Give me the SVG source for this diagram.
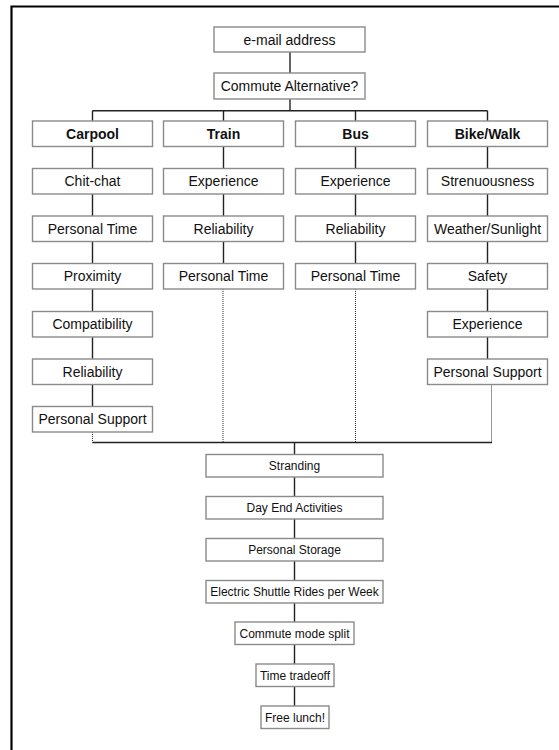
<svg xmlns="http://www.w3.org/2000/svg" width="559" height="750" viewBox="0 0 559 750">
<style>
.box{fill:#fff;stroke:#8a8a8a;stroke-width:1.4}
.t{font-family:"Liberation Sans",Arial,sans-serif;font-size:14px;fill:#111;text-anchor:middle}
.b{font-weight:bold}
.s{font-size:12px}
.ln{stroke:#222;stroke-width:1.4;fill:none}
.dt{stroke:#333;stroke-width:1;stroke-dasharray:1,1;fill:none}
</style>
<path d="M11.5,760 V6.5 H570" fill="none" stroke="#000" stroke-width="2.2"/>
<g id="connectors">
<line class="ln" x1="290" y1="52" x2="290" y2="73"/>
<line class="ln" x1="290" y1="99" x2="290" y2="110.7"/>
<line class="ln" x1="92.5" y1="110.7" x2="487.5" y2="110.7"/>
<line class="ln" x1="92.5" y1="110.7" x2="92.5" y2="121"/>
<line class="ln" x1="223.5" y1="110.7" x2="223.5" y2="121"/>
<line class="ln" x1="355.5" y1="110.7" x2="355.5" y2="121"/>
<line class="ln" x1="487.5" y1="110.7" x2="487.5" y2="121"/>
<line class="ln" x1="92.5" y1="146.5" x2="92.5" y2="168.5"/>
<line class="ln" x1="92.5" y1="194" x2="92.5" y2="216"/>
<line class="ln" x1="92.5" y1="241.5" x2="92.5" y2="263.5"/>
<line class="ln" x1="92.5" y1="289" x2="92.5" y2="311.5"/>
<line class="ln" x1="92.5" y1="337" x2="92.5" y2="359"/>
<line class="ln" x1="92.5" y1="384.5" x2="92.5" y2="406.5"/>
<line class="dt" x1="92.5" y1="432" x2="92.5" y2="442.5"/>
<line class="ln" x1="223.5" y1="146.5" x2="223.5" y2="168.5"/>
<line class="ln" x1="223.5" y1="194" x2="223.5" y2="216"/>
<line class="ln" x1="223.5" y1="241.5" x2="223.5" y2="263.5"/>
<line class="dt" x1="223" y1="289" x2="223" y2="442.5"/>
<line class="ln" x1="355.5" y1="146.5" x2="355.5" y2="168.5"/>
<line class="ln" x1="355.5" y1="194" x2="355.5" y2="216"/>
<line class="ln" x1="355.5" y1="241.5" x2="355.5" y2="263.5"/>
<line class="dt" x1="355.5" y1="289" x2="355.5" y2="442.5"/>
<line class="ln" x1="487.5" y1="146.5" x2="487.5" y2="168.5"/>
<line class="ln" x1="487.5" y1="194" x2="487.5" y2="216"/>
<line class="ln" x1="487.5" y1="241.5" x2="487.5" y2="263.5"/>
<line class="ln" x1="487.5" y1="289" x2="487.5" y2="311.5"/>
<line class="ln" x1="487.5" y1="337" x2="487.5" y2="359"/>
<line class="dt" x1="491.5" y1="384.5" x2="491.5" y2="442.5"/>
<line class="ln" x1="92.5" y1="442.5" x2="492" y2="442.5"/>
<line class="ln" x1="294.5" y1="442.5" x2="294.5" y2="454.5"/>
<line class="ln" x1="294.5" y1="477" x2="294.5" y2="496.5"/>
<line class="ln" x1="294.5" y1="519" x2="294.5" y2="538.5"/>
<line class="ln" x1="294.5" y1="561" x2="294.5" y2="580.5"/>
<line class="ln" x1="294.5" y1="603" x2="294.5" y2="622"/>
<line class="ln" x1="294.5" y1="644.5" x2="294.5" y2="664"/>
<line class="ln" x1="294.5" y1="686.5" x2="294.5" y2="706"/>
</g>
<g id="email"><rect class="box" x="214" y="27" width="151" height="25"/><text class="t" x="289.5" y="44.5">e-mail address</text></g>
<g id="commute"><rect class="box" x="214" y="73" width="151" height="26"/><text class="t" x="289.5" y="91">Commute Alternative?</text></g>

<g id="carpool"><rect class="box" x="32.5" y="121" width="120" height="25.5"/><text class="t b" x="92.5" y="138.8">Carpool</text></g>
<g id="carpool-chitchat"><rect class="box" x="32.5" y="168.5" width="120" height="25.5"/><text class="t" x="92.5" y="186.3">Chit-chat</text></g>
<g id="carpool-personaltime"><rect class="box" x="32.5" y="216" width="120" height="25.5"/><text class="t" x="92.5" y="233.8">Personal Time</text></g>
<g id="carpool-proximity"><rect class="box" x="32.5" y="263.5" width="120" height="25.5"/><text class="t" x="92.5" y="281.3">Proximity</text></g>
<g id="carpool-compatibility"><rect class="box" x="32.5" y="311.5" width="120" height="25.5"/><text class="t" x="92.5" y="329.3">Compatibility</text></g>
<g id="carpool-reliability"><rect class="box" x="32.5" y="359" width="120" height="25.5"/><text class="t" x="92.5" y="376.8">Reliability</text></g>
<g id="carpool-support"><rect class="box" x="32.5" y="406.5" width="120" height="25.5"/><text class="t" x="92.5" y="424.3">Personal Support</text></g>

<g id="train"><rect class="box" x="163.5" y="121" width="120" height="25.5"/><text class="t b" x="223.5" y="138.8">Train</text></g>
<g id="train-experience"><rect class="box" x="163.5" y="168.5" width="120" height="25.5"/><text class="t" x="223.5" y="186.3">Experience</text></g>
<g id="train-reliability"><rect class="box" x="163.5" y="216" width="120" height="25.5"/><text class="t" x="223.5" y="233.8">Reliability</text></g>
<g id="train-personaltime"><rect class="box" x="163.5" y="263.5" width="120" height="25.5"/><text class="t" x="223.5" y="281.3">Personal Time</text></g>

<g id="bus"><rect class="box" x="295.5" y="121" width="120" height="25.5"/><text class="t b" x="355.5" y="138.8">Bus</text></g>
<g id="bus-experience"><rect class="box" x="295.5" y="168.5" width="120" height="25.5"/><text class="t" x="355.5" y="186.3">Experience</text></g>
<g id="bus-reliability"><rect class="box" x="295.5" y="216" width="120" height="25.5"/><text class="t" x="355.5" y="233.8">Reliability</text></g>
<g id="bus-personaltime"><rect class="box" x="295.5" y="263.5" width="120" height="25.5"/><text class="t" x="355.5" y="281.3">Personal Time</text></g>

<g id="bike"><rect class="box" x="427.5" y="121" width="120" height="25.5"/><text class="t b" x="487.5" y="138.8">Bike/Walk</text></g>
<g id="bike-strenuousness"><rect class="box" x="427.5" y="168.5" width="120" height="25.5"/><text class="t" x="487.5" y="186.3">Strenuousness</text></g>
<g id="bike-weather"><rect class="box" x="427.5" y="216" width="120" height="25.5"/><text class="t" x="487.5" y="233.8">Weather/Sunlight</text></g>
<g id="bike-safety"><rect class="box" x="427.5" y="263.5" width="120" height="25.5"/><text class="t" x="487.5" y="281.3">Safety</text></g>
<g id="bike-experience"><rect class="box" x="427.5" y="311.5" width="120" height="25.5"/><text class="t" x="487.5" y="329.3">Experience</text></g>
<g id="bike-support"><rect class="box" x="427.5" y="359" width="120" height="25.5"/><text class="t" x="487.5" y="376.8">Personal Support</text></g>

<g id="stranding"><rect class="box" x="206" y="454.5" width="177" height="22.5"/><text class="t s" x="294.5" y="470">Stranding</text></g>
<g id="dayend"><rect class="box" x="206" y="496.5" width="177" height="22.5"/><text class="t s" x="294.5" y="512">Day End Activities</text></g>
<g id="storage"><rect class="box" x="206" y="538.5" width="177" height="22.5"/><text class="t s" x="294.5" y="554">Personal Storage</text></g>
<g id="shuttle"><rect class="box" x="206" y="580.5" width="177" height="22.5"/><text class="t s" x="294.5" y="596">Electric Shuttle Rides per Week</text></g>
<g id="modesplit"><rect class="box" x="235" y="622" width="119" height="22.5"/><text class="t s" x="294.5" y="637.5">Commute mode split</text></g>
<g id="tradeoff"><rect class="box" x="256" y="664" width="78" height="22.5"/><text class="t s" x="295" y="679.5">Time tradeoff</text></g>
<g id="lunch"><rect class="box" x="261" y="706" width="68" height="22.5"/><text class="t s" x="295" y="721.5">Free lunch!</text></g>
</svg>
